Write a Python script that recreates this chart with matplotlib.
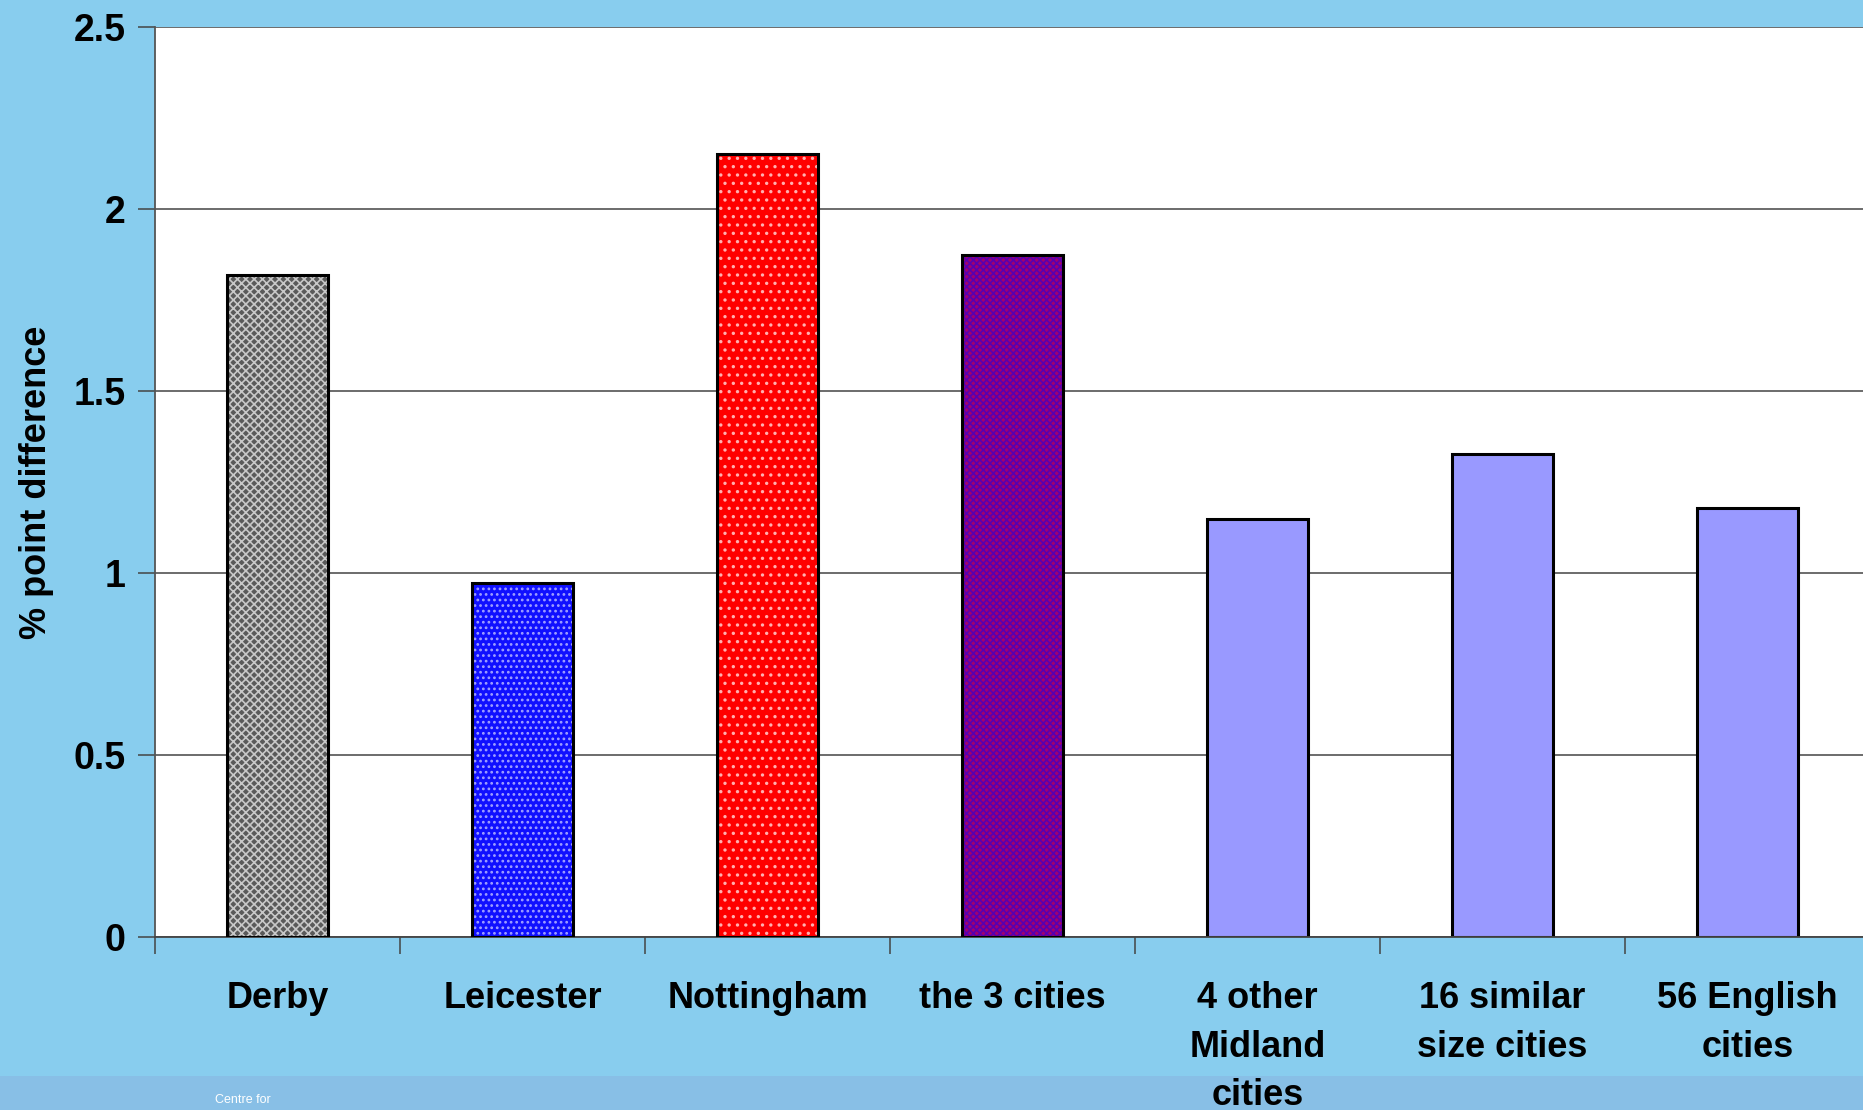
import matplotlib
matplotlib.use("Agg")
import matplotlib.pyplot as plt
from matplotlib.patches import Rectangle

# Chart data
categories = [
    "Derby",
    "Leicester",
    "Nottingham",
    "the 3 cities",
    "4 other\nMidland\ncities",
    "16 similar\nsize cities",
    "56 English\ncities",
]
values = [1.82, 0.973, 2.151, 1.873, 1.149, 1.328, 1.178]
y_ticks = [0, 0.5, 1, 1.5, 2, 2.5]
y_tick_labels = ["0", "0.5", "1", "1.5", "2", "2.5"]

# fill colour, hatch colour, hatch pattern for each bar
face_colors = ["#5a5a5a", "#1010ff", "#ff0000", "#a00070", "#9999ff", "#9999ff", "#9999ff"]
hatch_colors = ["#c8c8c8", "#a0a0ff", "#ffb0b0", "#5800b0", None, None, None]
hatches = ["xxxx", "...", "..", "xxxxx", None, None, None]

bg = "#88cdee"
strip = "#88bfe6"

plt.rcParams["font.family"] = ["Liberation Sans", "DejaVu Sans"]
plt.rcParams["font.weight"] = "bold"
plt.rcParams["hatch.linewidth"] = 1.2

fig = plt.figure(figsize=(18.63, 11.10), dpi=100, facecolor=bg)

# darker strip along the bottom edge (kept below the axes and its labels)
fig.patches.append(Rectangle((0, 0), 1, 34 / 1110, transform=fig.transFigure,
                             facecolor=strip, edgecolor="none", zorder=-1))
fig.text(215 / 1863, 0.009, "Centre for", color="white", fontsize=9,
         fontweight="normal", ha="left", va="center")

ax = fig.add_axes([155 / 1863, (1110 - 937) / 1110, 1715 / 1863, 910 / 1110])
ax.set_facecolor("white")

x = list(range(len(categories)))
width = 0.41
for i, v in enumerate(values):
    if hatches[i]:
        ax.bar(i, v, width=width, color=face_colors[i], edgecolor=hatch_colors[i],
               hatch=hatches[i], linewidth=0, zorder=2)
        ax.bar(i, v, width=width, color="none", edgecolor="black", linewidth=2.2, zorder=3)
    else:
        ax.bar(i, v, width=width, color=face_colors[i], edgecolor="black",
               linewidth=2.2, zorder=2)

ax.set_xlim(-0.5, len(categories) - 0.5)
ax.set_ylim(0, 2.5)
ax.set_yticks(y_ticks)
ax.set_yticklabels(y_tick_labels)
ax.yaxis.grid(True, color="#444444", linewidth=1.1, zorder=1)
ax.set_axisbelow(True)

# category labels centred on bars, ticks between categories
ax.set_xticks(x)
ax.set_xticklabels(categories, linespacing=1.5, va="top")
ax.tick_params(axis="x", length=0, pad=32, labelsize=26)
ax.set_xticks([i - 0.5 for i in range(len(categories) + 1)], minor=True)
ax.tick_params(axis="x", which="minor", length=12, width=1.1, color="#444444",
               direction="out")
ax.tick_params(axis="y", length=12, width=1.1, color="#444444", pad=9,
               labelsize=27, direction="out")

for side in ["top", "right"]:
    ax.spines[side].set_visible(False)
ax.spines["left"].set_color("#555555")
ax.spines["left"].set_linewidth(1.3)
ax.spines["bottom"].set_color("#444444")
ax.spines["bottom"].set_linewidth(1.3)

ax.set_ylabel("% point difference", fontsize=26, fontweight="bold", labelpad=14)

fig.savefig("out.png", dpi=100, facecolor=bg)
